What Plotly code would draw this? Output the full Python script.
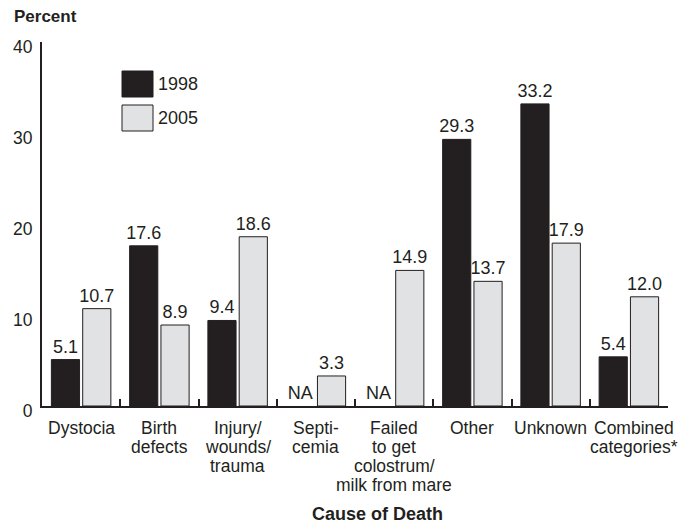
import plotly.graph_objects as go

categories = ["Dystocia", "Birth<br>defects", "Injury/<br>wounds/<br>trauma", "Septi-<br>cemia",
              "Failed<br>to get<br>colostrum/<br>milk from mare", "Other", "Unknown",
              "Combined<br>categories*"]
values_1998 = [5.1, 17.6, 9.4, 0, 0, 29.3, 33.2, 5.4]
labels_1998 = ["5.1", "17.6", "9.4", "NA", "NA", "29.3", "33.2", "5.4"]
values_2005 = [10.7, 8.9, 18.6, 3.3, 14.9, 13.7, 17.9, 12.0]
labels_2005 = ["10.7", "8.9", "18.6", "3.3", "14.9", "13.7", "17.9", "12.0"]
series_names = ["1998", "2005"]
y_ticks = [0, 10, 20, 30, 40]

DARK = "#231f20"
LIGHT = "#e1e2e3"
FONT = "Liberation Sans, Arial, sans-serif"
FS = 18
CAT_FS = 17.5

# plot area targeted at x 42-668, y 42-406
L, T = 42, 42
PW, PH = 626, 364

fig = go.Figure()
fig.add_trace(go.Bar(
    x=categories, y=values_1998, name=series_names[0],
    marker=dict(color=DARK, line=dict(color=[DARK if v > 0 else "rgba(0,0,0,0)" for v in values_1998],
                                      width=[1 if v > 0 else 0 for v in values_1998])),
    text=labels_1998, textposition="outside", cliponaxis=False, constraintext="none",
    textfont=dict(family=FONT, size=FS, color=DARK), showlegend=False,
))
fig.add_trace(go.Bar(
    x=categories, y=values_2005, name=series_names[1],
    marker=dict(color=LIGHT, line=dict(color=DARK, width=1)),
    text=labels_2005, textposition="outside", cliponaxis=False, constraintext="none",
    textfont=dict(family=FONT, size=FS, color=DARK), showlegend=False,
))

fig.update_layout(
    width=694, height=523,
    margin=dict(l=L, r=694 - L - PW, t=T, b=523 - T - PH, autoexpand=False),
    paper_bgcolor="white", plot_bgcolor="white",
    barmode="group", bargap=0.2, bargroupgap=0.1,
    font=dict(family=FONT, size=FS, color=DARK),
)
fig.update_xaxes(
    range=[-0.5, len(categories) - 0.5], autorange=False,
    showline=True, linecolor=DARK, linewidth=2,
    ticks="inside", tickson="boundaries", ticklen=7, tickcolor=DARK, tickwidth=2,
    showgrid=False, showticklabels=False,
)
fig.update_yaxes(
    range=[0, 40], tickvals=y_ticks, showline=True, linecolor=DARK, linewidth=2,
    ticks="", showgrid=False, zeroline=False,
    tickfont=dict(family=FONT, size=17.5, color=DARK), ticklabelstandoff=4,
    ticklabelshift=5,
)

# category labels, one text per line with tight line spacing
for cat in categories:
    xs = 5 if cat.startswith("Combined") else 0
    for i, line in enumerate(cat.split("<br>")):
        fig.add_annotation(text=line, x=cat, xref="x", y=0, yref="paper",
                           yshift=-(22 + 19 * i), xshift=xs, xanchor="center", yanchor="middle",
                           showarrow=False, font=dict(family=FONT, size=CAT_FS, color=DARK))

# custom legend
legend_items = [(series_names[0], DARK, 71), (series_names[1], LIGHT, 105)]
for name, color, top in legend_items:
    fig.add_shape(type="rect", xref="paper", yref="paper",
                  x0=(122 - 42) / PW, x1=(153 - 42) / PW,
                  y0=(406 - top - 26) / PH, y1=(406 - top) / PH,
                  fillcolor=color, line=dict(color=DARK, width=1))
    fig.add_annotation(text=name, xref="paper", yref="paper",
                       x=(156 - 42) / PW, y=(406 - top - 13) / PH,
                       xanchor="left", yanchor="middle", showarrow=False,
                       font=dict(family=FONT, size=FS, color=DARK))

fig.add_annotation(text="<b>Percent</b>", xref="paper", yref="paper",
                   x=(12 - 42) / PW, y=(406 - 16) / PH, xanchor="left", yanchor="middle",
                   showarrow=False, font=dict(family=FONT, size=17, color=DARK))
fig.add_annotation(text="<b>Cause of Death</b>", xref="paper", yref="paper",
                   x=(377 - 42) / PW, y=(406 - 514) / PH, xanchor="center", yanchor="middle",
                   showarrow=False, font=dict(family=FONT, size=18, color=DARK))

fig.write_html("out.html", config={"displayModeBar": False},
               post_script="document.body.style.margin='0';document.body.style.overflow='hidden';")
